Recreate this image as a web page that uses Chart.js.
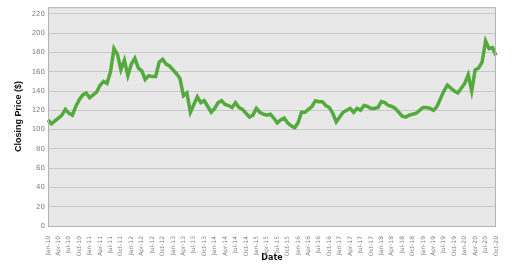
<!DOCTYPE html>
<html>
<head>
<meta charset="utf-8">
<script src="https://cdn.jsdelivr.net/npm/chart.js@4"></script>
<style>
  body { margin: 0; background: #fff; }
  #wrap { width: 520px; height: 269px; }
</style>
</head>
<body>
<div id="wrap"><canvas id="priceChart"></canvas></div>
<script>
// monthly closing prices, Jan-10 .. Oct-20
const years = ["10", "11", "12", "13", "14", "15", "16", "17", "18", "19", "20"];
const monthNames = ["Jan", "Feb", "Mar", "Apr", "May", "Jun", "Jul", "Aug", "Sep", "Oct", "Nov", "Dec"];
const yTicks = [0, 20, 40, 60, 80, 100, 120, 140, 160, 180, 200, 220];
const prices = [
  110, 106, 109, 112, 115, 121, 117, 115, 124, 131, 136, 138,
  133, 136, 139, 146, 150, 148, 160, 184, 178, 162, 172, 156,
  168, 174, 164, 161, 152, 156, 155, 155, 170, 173, 168, 166,
  162, 158, 153, 135, 138, 118, 126, 134, 128, 130, 124, 118,
  122, 128, 130, 126, 125, 123, 128, 123, 121, 117, 113, 115,
  122, 118, 116, 115, 116, 112, 107, 110, 112, 107, 104, 102,
  107, 118, 118, 121, 124, 130, 129, 129, 125, 123, 117, 108,
  113, 118, 120, 122, 118, 122, 120, 125, 124, 122, 122, 123,
  129, 128, 125, 124, 122, 118, 114, 113, 115, 116, 117, 120,
  123, 123, 122, 120, 124, 132, 140, 146, 143, 140, 138, 143,
  148, 157, 140, 162, 164, 170, 192, 184, 185, 177,
];

const months = [];
years.forEach((y) => {
  monthNames.forEach((m) => {
    if (months.length < prices.length) months.push(`${m}-${y}`);
  });
});

const plotBg = {
  id: "plotBg",
  beforeDraw(chart) {
    const { ctx, chartArea: a } = chart;
    ctx.save();
    ctx.fillStyle = "#e8e8e8";
    ctx.fillRect(a.left, a.top, a.right - a.left, a.bottom - a.top);
    ctx.restore();
  },
  afterDraw(chart) {
    const { ctx, chartArea: a } = chart;
    ctx.save();
    ctx.strokeStyle = "#b4b4b4";
    ctx.lineWidth = 1;
    ctx.strokeRect(a.left + 0.5, a.top + 0.5, a.right - a.left - 1, a.bottom - a.top);
    ctx.restore();
  },
};

const ctx = document.getElementById("priceChart").getContext("2d");

const priceChart = new Chart(ctx, {
  type: "line",
  data: {
    labels: months,
    datasets: [
      {
        label: "Closing Price",
        data: prices,
        borderColor: "rgb(84, 170, 60)",
        borderWidth: 3.5,
        pointRadius: 0,
        tension: 0,
        fill: false,
      },
    ],
  },
  options: {
    responsive: true,
    maintainAspectRatio: false,
    animation: false,
    layout: { padding: { top: 7, right: 24, left: 0, bottom: 0 } },
    plugins: {
      legend: { display: false },
      tooltip: { enabled: false },
    },
    scales: {
      x: {
        type: "category",
        offset: false,
        grid: { display: false },
        border: { display: false },
        ticks: {
          autoSkip: false,
          maxRotation: 90,
          minRotation: 90,
          padding: 2,
          color: "#808080",
          font: { family: "DejaVu Sans", size: 6 },
          callback: (val, i) => (i % 3 === 0 ? months[i] : null),
        },
        title: {
          display: true,
          text: "Date",
          color: "#111",
          font: { family: "DejaVu Sans", size: 8, weight: "bold" },
          padding: { top: 0, bottom: 6 },
        },
        afterFit: (scale) => {
          scale.height = 43;
        },
      },
      y: {
        min: 0,
        max: 227,
        grid: { color: "#c8c8c8", drawTicks: false },
        border: { color: "#999" },
        ticks: {
          padding: 3,
          color: "#808080",
          font: { family: "DejaVu Sans", size: 7 },
        },
        afterBuildTicks: (scale) => {
          scale.ticks = yTicks.map((v) => ({ value: v }));
        },
        title: {
          display: true,
          text: "Closing Price ($)",
          color: "#111",
          font: { family: "Liberation Sans", size: 9, weight: "bold" },
          padding: { top: 13, bottom: 0 },
        },
        afterFit: (scale) => {
          scale.width = 48;
        },
      },
    },
  },
  plugins: [plotBg],
});
</script>
</body>
</html>
